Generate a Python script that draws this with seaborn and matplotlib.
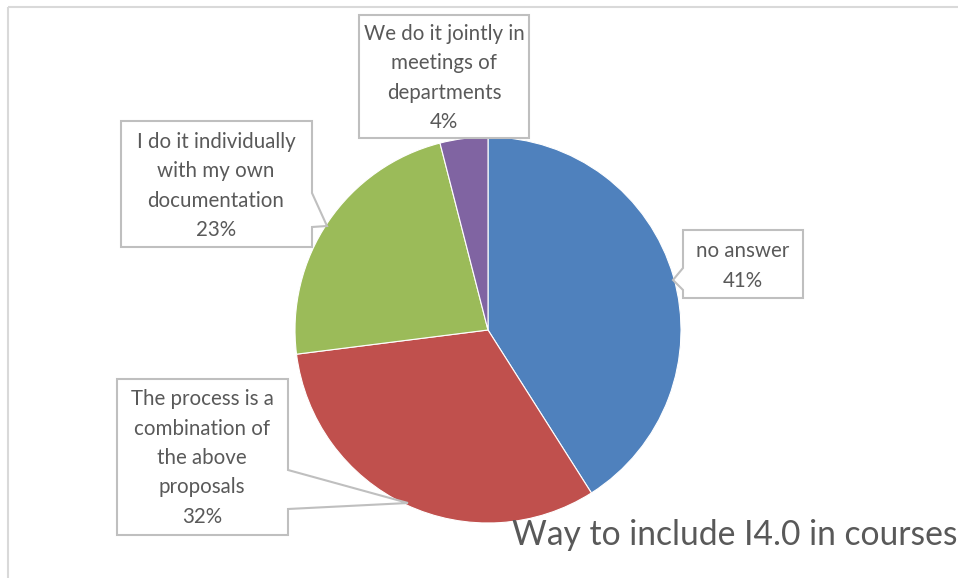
import matplotlib
matplotlib.use("Agg")
import matplotlib.pyplot as plt
import seaborn as sns
from matplotlib.patches import Polygon, Rectangle

# ---- data ----
categories = [
    "no answer",
    "The process is a\ncombination of\nthe above\nproposals",
    "I do it individually\nwith my own\ndocumentation",
    "We do it jointly in\nmeetings of\ndepartments",
]
values = [41, 32, 23, 4]
colors = ["#4F81BD", "#C0504D", "#9BBB59", "#8064A2"]
title = "Way to include I4.0 in courses"

sns.set_theme(style="white")
plt.rcParams["font.family"] = ["Lato", "DejaVu Sans"]

W, H = 958, 578
fig = plt.figure(figsize=(W / 100, H / 100), dpi=100)
ax = fig.add_axes([0, 0, 1, 1])

# pie in pixel-like coordinates (y axis inverted)
cx, cy, r = 488, 330, 193
ax.pie(values, colors=sns.color_palette(colors), startangle=-90, counterclock=True,
       center=(cx, cy), radius=r,
       wedgeprops=dict(edgecolor="white", linewidth=0.8))
ax.set_xlim(0, W)
ax.set_ylim(H, 0)
ax.set_aspect("equal")
ax.axis("off")

# outer chart frame
ax.add_patch(Rectangle((8, 7), 1000, 600, fill=False, edgecolor="#D9D9D9", linewidth=1.5))

# callout boxes (outline polygons)
box_color = "#BFBFBF"
callouts = [
    [(683, 230), (803, 230), (803, 298), (683, 298), (683, 290), (673, 280), (683, 268)],
    [(117, 379), (288, 379), (288, 470), (408, 503), (288, 509), (288, 535), (117, 535)],
    [(121, 121), (312, 121), (312, 193), (327, 226), (312, 227), (312, 247), (121, 247)],
    [(359, 15), (529, 15), (529, 138), (359, 138)],
]
label_pos = [(743, 266), (202, 458), (216, 186), (444, 78)]

for poly, (tx, ty), cat, v in zip(callouts, label_pos, categories, values):
    ax.add_patch(Polygon(poly, closed=True, facecolor="white", edgecolor=box_color, linewidth=1.5))
    ax.text(tx, ty, f"{cat}\n{v}%", ha="center", va="center", multialignment="center",
            fontsize=14.8, color="#595959", linespacing=1.58)

ax.text(512, 535, title, ha="left", va="center", fontsize=24.2, color="#595959")

fig.savefig("out.png", dpi=100)
